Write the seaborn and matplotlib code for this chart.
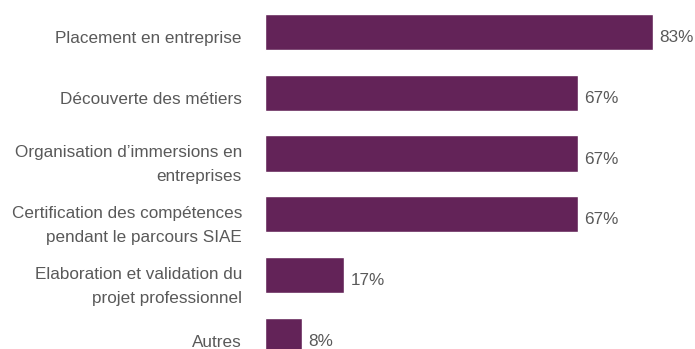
import matplotlib
matplotlib.use("Agg")
import matplotlib.pyplot as plt
import matplotlib.transforms as mtransforms
import seaborn as sns
import pandas as pd

categories = [
    "Placement en entreprise",
    "Découverte des métiers",
    "Organisation d’immersions en\nentreprises",
    "Certification des compétences\npendant le parcours SIAE",
    "Elaboration et validation du\nprojet professionnel",
    "Autres",
]
values = [83, 67, 67, 67, 17, 8]

bar_color = "#632358"
text_color = "#595959"

sns.set_theme(style="white")
plt.rcParams["font.family"] = ["Liberation Sans", "DejaVu Sans"]

df = pd.DataFrame({"categorie": categories, "valeur": values})

fig = plt.figure(figsize=(6.95, 3.49), dpi=100)
ax = fig.add_axes([265 / 695, 0, 430 / 695, 1])

sns.barplot(data=df, x="valeur", y="categorie", orient="h",
            color=bar_color, saturation=1, width=0.593, ax=ax)

ax.set_xlim(0, 92)
ax.set_ylim(5.218, -0.527)

for cont in ax.containers:
    texts = ax.bar_label(cont, labels=[f"{v}%" for v in values], padding=4.3,
                         fontsize=12.3, color=text_color)
    # value labels sit slightly below the bar centre
    for t in texts:
        t.xyann = (t.xyann[0], -4.0)

ax.set_xlabel("")
ax.set_ylabel("")
ax.set_xticks([])
ax.tick_params(axis="y", length=0, pad=16.6, labelsize=12.3, labelcolor=text_color)
shift = mtransforms.ScaledTranslation(0, -5 / 100, fig.dpi_scale_trans)
for tick in ax.yaxis.get_major_ticks():
    lbl = tick.label1
    lbl.set_horizontalalignment("right")
    lbl.set_linespacing(1.75)
    lbl.set_transform(lbl.get_transform() + shift)
for s in ax.spines.values():
    s.set_visible(False)

fig.savefig("out.png", dpi=100)
